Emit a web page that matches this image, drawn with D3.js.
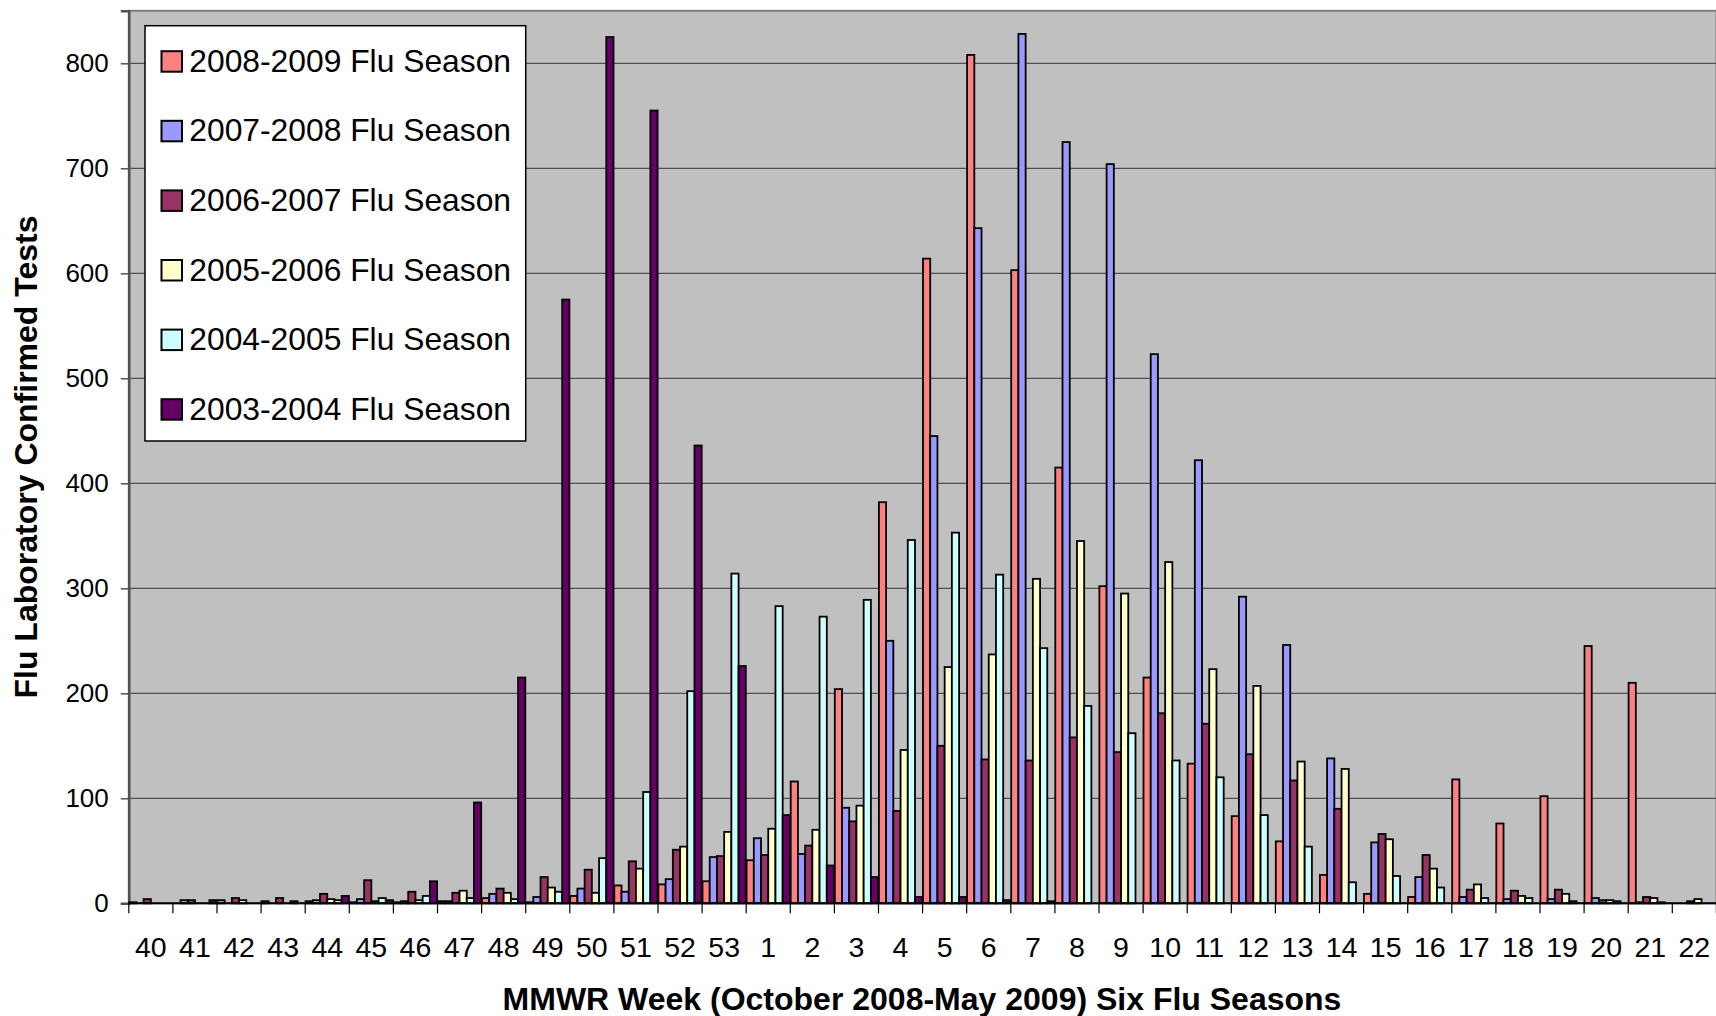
<!DOCTYPE html>
<html>
<head>
<meta charset="utf-8">
<script src="https://cdn.jsdelivr.net/npm/d3@7/dist/d3.min.js"></script>
<style>
  html, body { margin: 0; padding: 0; background: #ffffff; }
  svg { display: block; font-family: "Liberation Sans", Arial, sans-serif; }
</style>
</head>
<body>
<svg id="chart" width="1716" height="1016"></svg>
<script>
// MMWR weeks, October through May
const weeks = ["40","41","42","43","44","45","46","47","48","49","50","51","52","53",
  "1","2","3","4","5","6","7","8","9","10","11","12","13","14","15","16","17","18","19","20","21","22"];

const seasons = ["2008-2009 Flu Season","2007-2008 Flu Season","2006-2007 Flu Season",
  "2005-2006 Flu Season","2004-2005 Flu Season","2003-2004 Flu Season"];

const seasonColors = ["#FF8080","#9999FF","#993366","#FFFFCC","#CCFFFF","#660066"];

// Flu laboratory confirmed tests per week, one array per season
const season2008 = [1,0,3,2,2,1,1,2,5,1,7,17,18,21,41,116,204,382,614,808,603,415,302,215,133,83,59,27,9,6,118,76,102,245,210,0];
const season2007 = [0,3,0,0,3,4,2,2,9,6,14,11,23,44,62,47,91,250,445,643,828,725,704,523,422,292,246,138,58,25,6,4,4,5,1,0];
const season2006 = [4,3,5,5,9,22,11,10,14,25,32,40,51,45,46,55,78,88,150,137,136,158,144,181,171,142,117,90,66,46,13,12,13,3,6,2];
const season2005 = [0,0,3,0,4,2,3,12,10,15,10,33,54,68,71,70,93,146,225,237,309,345,295,325,223,207,135,128,61,33,18,7,9,3,5,4];
const season2004 = [0,0,0,2,3,5,7,5,4,11,43,106,202,314,283,273,289,346,353,313,243,188,162,136,120,84,54,20,26,15,5,5,2,2,1,0];
const season2003 = [0,3,0,0,7,3,21,96,215,575,825,755,436,226,84,36,25,6,6,3,2,0,0,0,0,0,0,0,0,0,0,0,0,0,0,0];

const seriesValues = [season2008, season2007, season2006, season2005, season2004, season2003];

const yTicks = [0,100,200,300,400,500,600,700,800];

const svg = d3.select("#chart");

const plot = { left: 128.8, right: 128.8 + 36 * 44.1, top: 10.8, bottom: 903.3 };

const x0 = d3.scaleBand().domain(weeks).range([plot.left, plot.right]).padding(0);
const x1 = d3.scaleBand().domain(d3.range(seasons.length))
  .range([0.4, x0.bandwidth() - 0.4]).padding(0);
const y = d3.scaleLinear().domain([0, 850]).range([plot.bottom, plot.top]);

// plot area background
svg.append("rect")
  .attr("x", plot.left).attr("y", plot.top)
  .attr("width", plot.right - plot.left).attr("height", plot.bottom - plot.top)
  .attr("fill", "#C0C0C0").attr("stroke", "#808080").attr("stroke-width", 2);

// horizontal gridlines
svg.append("g").selectAll("line")
  .data(yTicks.filter(d => d > 0))
  .join("line")
  .attr("x1", plot.left).attr("x2", plot.right)
  .attr("y1", d => y(d)).attr("y2", d => y(d))
  .attr("stroke", "#505050").attr("stroke-width", 1.2);

// y axis
const yAxis = d3.axisLeft(y).tickValues(yTicks).tickSize(8).tickPadding(12);
const gy = svg.append("g").attr("transform", `translate(${plot.left},0)`).call(yAxis);
gy.select(".domain").attr("stroke", "#505050").attr("stroke-width", 2.5);
gy.selectAll(".tick line").attr("stroke", "#505050").attr("stroke-width", 1.5);
gy.selectAll(".tick text").attr("font-size", 26).attr("fill", "#000")
  .attr("font-family", "'Liberation Sans', Arial, sans-serif");

// bars
const groups = svg.append("g").selectAll("g")
  .data(weeks)
  .join("g")
  .attr("transform", w => `translate(${x0(w)},0)`);

groups.selectAll("rect")
  .data((w, i) => seriesValues.map((vals, s) => ({ s, v: vals[i] })))
  .join("rect")
  .attr("x", d => x1(d.s))
  .attr("width", x1.bandwidth())
  .attr("y", d => y(d.v))
  .attr("height", d => y(0) - y(d.v))
  .attr("fill", d => seasonColors[d.s])
  .attr("stroke", "#000")
  .attr("stroke-width", 1.8);

// x axis with tick marks between categories
const gx = svg.append("g");
gx.append("line")
  .attr("x1", plot.left).attr("x2", plot.right)
  .attr("y1", plot.bottom).attr("y2", plot.bottom)
  .attr("stroke", "#000").attr("stroke-width", 2);
gx.selectAll("line.tk")
  .data(d3.range(weeks.length + 1))
  .join("line")
  .attr("class", "tk")
  .attr("x1", i => plot.left + i * x0.bandwidth())
  .attr("x2", i => plot.left + i * x0.bandwidth())
  .attr("y1", plot.bottom).attr("y2", plot.bottom + 10)
  .attr("stroke", "#000").attr("stroke-width", 1.2);
gx.selectAll("text")
  .data(weeks)
  .join("text")
  .attr("x", w => x0(w) + x0.bandwidth() / 2)
  .attr("y", 957.3)
  .attr("text-anchor", "middle")
  .attr("font-size", 28.5)
  .text(w => w);

// axis titles
svg.append("text")
  .attr("x", 922).attr("y", 1010)
  .attr("text-anchor", "middle")
  .attr("font-size", 32).attr("font-weight", "bold")
  .text("MMWR Week (October 2008-May 2009) Six Flu Seasons");

svg.append("text")
  .attr("transform", "translate(37.3,457) rotate(-90)")
  .attr("text-anchor", "middle")
  .attr("font-size", 32).attr("font-weight", "bold")
  .text("Flu Laboratory Confirmed Tests");

// legend
const legend = svg.append("g");
legend.append("rect")
  .attr("x", 145).attr("y", 25.7).attr("width", 380.7).attr("height", 415.3)
  .attr("fill", "#fff").attr("stroke", "#000").attr("stroke-width", 1.5);
const rows = legend.selectAll("g.row")
  .data(seasons)
  .join("g")
  .attr("class", "row")
  .attr("transform", (d, i) => `translate(0,${61.2 + i * 69.6})`);
rows.append("rect")
  .attr("x", 161.5).attr("y", -10).attr("width", 20.5).attr("height", 20.5)
  .attr("fill", (d, i) => seasonColors[i])
  .attr("stroke", "#000").attr("stroke-width", 2);
rows.append("text")
  .attr("x", 189.3).attr("y", 10.5)
  .attr("font-size", 31.8)
  .text(d => d);
</script>
</body>
</html>
